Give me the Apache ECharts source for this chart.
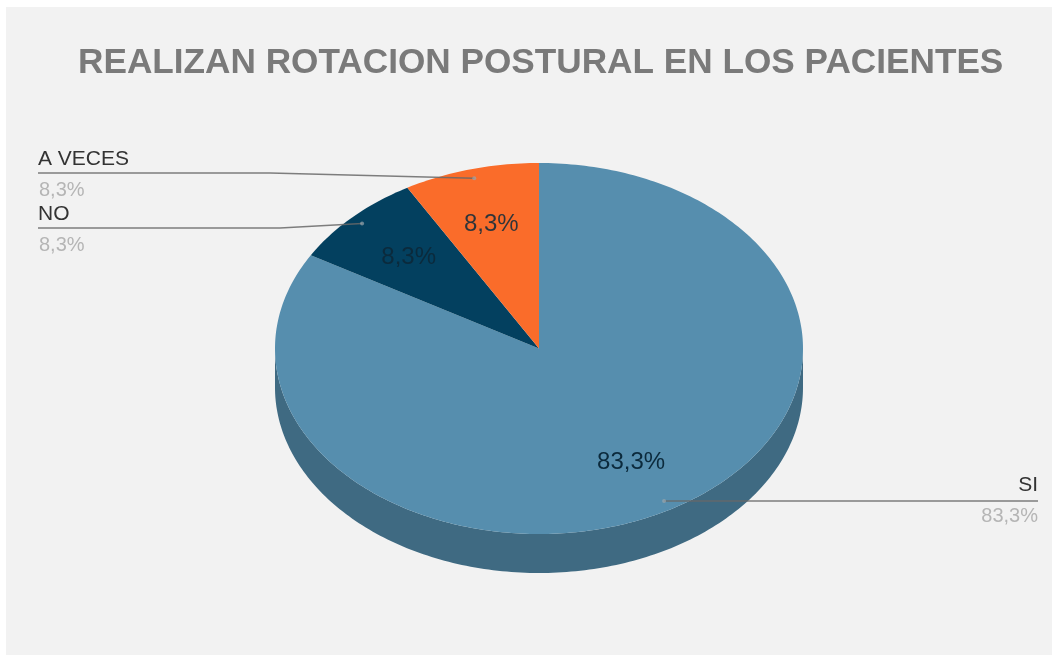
<!DOCTYPE html>
<html>
<head>
<meta charset="utf-8">
<script src="https://cdn.jsdelivr.net/npm/echarts@6/dist/echarts.min.js"></script>
<style>
  html, body { margin: 0; padding: 0; background: #fff; }
  #chart { width: 1058px; height: 662px; }
</style>
</head>
<body>
<div id="chart"></div>
<script>
const titleText = "REALIZAN ROTACION POSTURAL EN LOS PACIENTES";
const categories = ["SI", "NO", "A VECES"];
const values = [83.3, 8.3, 8.3];
const colors = ["#568eae", "#03405f", "#fa6c2a"];

const pie = { cx: 539, cy: 348.5, rx: 264, ry: 185.5, depth: 39 };
const wallColor = "#3f6a82";
const font = "Liberation Sans";

// where each outside label sits, same order as categories
const callouts = [
  { align: "right", x: 1038, lineY: 501, elbowX: null, nameDy: -16, valueDy: 15, reach: 0.95 },
  { align: "left", x: 38, lineY: 228, elbowX: 280, nameDy: -14, valueDy: 17, reach: 0.95 },
  { align: "left", x: 38, lineY: 173, elbowX: 270, nameDy: -14, valueDy: 17, reach: 0.95 },
];

const total = values.reduce((a, b) => a + b, 0);
const fmt = (v) => v.toFixed(1).replace(".", ",") + "%";

// angle in degrees, clockwise from 12 o'clock
const pt = (deg, f = 1, dy = 0) => {
  const r = (deg * Math.PI) / 180;
  return [pie.cx + pie.rx * f * Math.sin(r), pie.cy - pie.ry * f * Math.cos(r) + dy];
};

const arc = (from, to, dy = 0) => {
  const pts = [];
  for (let a = from; a < to; a += 1) pts.push(pt(a, 1, dy));
  pts.push(pt(to, 1, dy));
  return pts;
};

const renderSlice = (params, api) => {
  const i = params.dataIndex;
  const start = (values.slice(0, i).reduce((a, b) => a + b, 0) / total) * 360;
  const end = start + (api.value(0) / total) * 360;
  const mid = (start + end) / 2;
  const children = [];

  // side wall, only the front half of the ellipse shows
  const wallFrom = Math.max(start, 90);
  const wallTo = Math.min(end, 270);
  if (wallFrom < wallTo) {
    children.push({
      type: "polygon",
      shape: { points: arc(wallFrom, wallTo, 0).concat(arc(wallFrom, wallTo, pie.depth).reverse()) },
      style: { fill: wallColor },
    });
  }

  children.push({
    type: "polygon",
    shape: { points: [[pie.cx, pie.cy]].concat(arc(start, end)) },
    style: { fill: colors[i] },
  });

  const [lx, ly] = pt(mid, 0.7);
  children.push({
    type: "text",
    style: {
      text: fmt(api.value(0)), x: lx, y: ly + 1, align: "center", verticalAlign: "middle",
      fill: "#0b2a3c", font: `24px "${font}"`, opacity: i === 2 ? 0.85 : 1,
    },
  });

  const c = callouts[i];
  const anchor = pt(mid, c.reach);
  const end2 = i === 0 ? [anchor[0], c.lineY] : anchor;
  const line = [[c.x, c.lineY]];
  if (c.elbowX !== null) line.push([c.elbowX, c.lineY]);
  line.push(end2);
  children.push({
    type: "polyline",
    shape: { points: line },
    style: { fill: null, stroke: "rgba(105,105,105,0.85)", lineWidth: 1.5 },
  });
  children.push({
    type: "circle",
    shape: { cx: end2[0], cy: end2[1], r: 2 },
    style: { fill: "#9aa5ad", opacity: 0.7 },
  });
  children.push({
    type: "text",
    style: {
      text: categories[i], x: c.x, y: c.lineY + c.nameDy, align: c.align, verticalAlign: "middle",
      fill: "#333333", font: `21px "${font}"`,
    },
  });
  children.push({
    type: "text",
    style: {
      text: fmt(api.value(0)), x: c.x + (c.align === "left" ? 1 : 0), y: c.lineY + c.valueDy, align: c.align, verticalAlign: "middle",
      fill: "#b5b5b5", font: `20px "${font}"`,
    },
  });

  return { type: "group", children };
};

const chart = echarts.init(document.getElementById("chart"));
chart.setOption({
  animation: false,
  graphic: [
    { type: "rect", z: -10, shape: { x: 6, y: 7, width: 1046, height: 648 }, style: { fill: "#f2f2f2" } },
  ],
  title: {
    text: titleText,
    left: 73,
    top: 41,
    textStyle: { color: "#7a7a7a", fontFamily: font, fontWeight: "bold", fontSize: 35.2 },
  },
  series: [
    {
      type: "custom",
      coordinateSystem: "none",
      renderItem: renderSlice,
      data: values.map((v) => [v]),
      silent: true,
    },
  ],
});
</script>
</body>
</html>
